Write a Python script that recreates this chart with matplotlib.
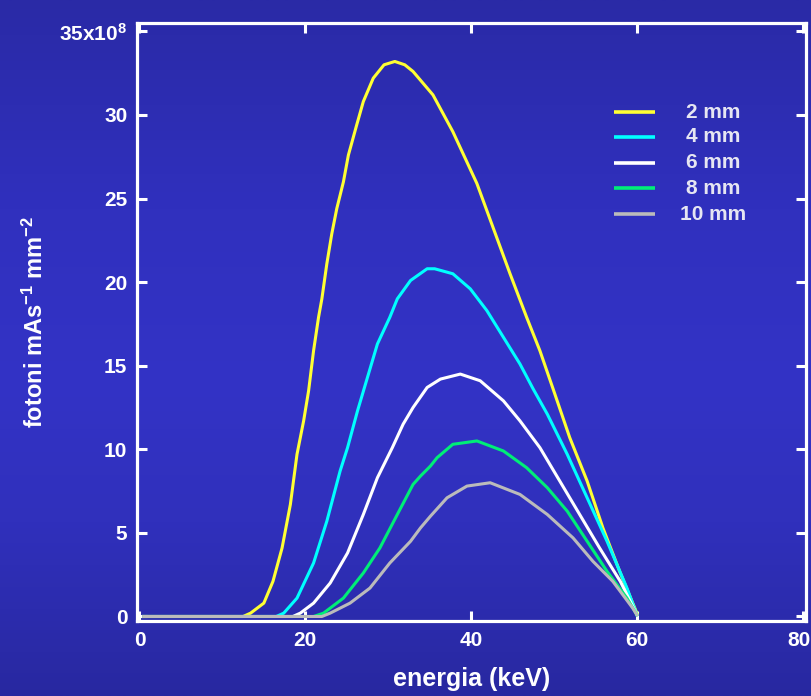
import numpy as np
import matplotlib
matplotlib.use("Agg")
import matplotlib.pyplot as plt
import matplotlib.transforms as mtransforms

# ---------------- data ----------------
e_2mm = [0.5, 12.5, 13.4, 15.0, 16.1, 17.2, 18.2, 19.0, 19.8, 20.4, 21.0, 21.6, 22.0, 22.6, 23.2,
         23.8, 24.6, 25.2, 26.2, 27.0, 28.2, 29.5, 30.8, 32.0, 33.0, 35.4, 37.8, 40.7, 42.7,
         44.7, 46.7, 48.3, 49.9, 51.9, 54.0, 55.9, 58.0, 60.0]
v_2mm = [0, 0, 0.2, 0.8, 2.1, 4.1, 6.7, 9.7, 11.7, 13.5, 15.9, 17.9, 19.0, 21.1, 22.9,
         24.4, 26.0, 27.6, 29.4, 30.8, 32.2, 33.0, 33.2, 33.0, 32.6, 31.2, 29.0, 25.9, 23.2,
         20.5, 17.9, 15.9, 13.6, 10.7, 8.1, 5.3, 2.6, 0.2]

e_4mm = [0.5, 16.5, 17.4, 19.0, 21.0, 22.6, 24.2, 25.1, 26.3, 27.5, 28.7, 30.2, 31.1, 32.7,
         34.7, 35.6, 37.8, 39.9, 41.9, 43.9, 45.9, 47.5, 49.2, 51.6, 54.0, 56.4, 58.8, 60.0]
v_4mm = [0, 0, 0.2, 1.1, 3.2, 5.7, 8.7, 10.1, 12.3, 14.3, 16.3, 17.9, 19.0, 20.1,
         20.8, 20.8, 20.5, 19.6, 18.3, 16.7, 15.1, 13.6, 12.1, 9.7, 7.1, 4.5, 1.7, 0.1]

e_6mm = [0.5, 18.5, 19.4, 21.0, 23.0, 25.1, 27.0, 28.7, 30.5, 31.8, 33.0, 34.7, 36.3, 38.7,
         41.1, 43.9, 45.9, 48.3, 50.7, 53.1, 55.5, 58.0, 60.0]
v_6mm = [0, 0, 0.2, 0.8, 2.0, 3.8, 6.1, 8.3, 10.1, 11.5, 12.5, 13.7, 14.2, 14.5,
         14.1, 12.9, 11.7, 10.1, 8.1, 6.1, 4.1, 2.1, 0.1]

e_8mm = [0.5, 21.0, 22.2, 24.6, 27.0, 29.0, 31.1, 33.0, 33.9, 35.1, 35.9, 37.8, 40.7, 43.9, 46.7,
         49.2, 51.6, 54.0, 56.4, 58.8, 60.0]
v_8mm = [0, 0, 0.2, 1.1, 2.6, 4.1, 6.1, 7.9, 8.4, 9.0, 9.5, 10.3, 10.5, 9.9, 8.9,
         7.7, 6.3, 4.5, 2.7, 1.1, 0.1]

e_10mm = [0.5, 22.0, 23.0, 25.4, 27.8, 30.2, 32.7, 33.9, 35.1, 37.1, 39.5, 42.3, 45.9, 49.2, 52.3,
          54.7, 57.1, 59.5, 60.0]
v_10mm = [0, 0, 0.2, 0.8, 1.7, 3.2, 4.5, 5.3, 6.0, 7.1, 7.8, 8.0, 7.3, 6.1, 4.7,
          3.3, 2.1, 0.5, 0.1]

series_labels = ["2 mm", "4 mm", "6 mm", "8 mm", "10 mm"]
series_colors = ["#ffff33", "#00ffff", "#ffffff", "#00ee77", "#bbbbbb"]
x_ticks = [0, 20, 40, 60, 80]
x_ticklabels = ["0", "20", "40", "60", "80"]
y_ticks = [0, 5, 10, 15, 20, 25, 30, 35]
y_ticklabels = ["0", "5", "10", "15", "20", "25", "30", "35x10$^{8}$"]
x_label = "energia (keV)"
y_label = "fotoni mAs$^{-1}$ mm$^{-2}$"

# ---------------- style ----------------
plt.rcParams['mathtext.default'] = 'regular'
fam = ['Liberation Sans', 'DejaVu Sans']

W, H = 812, 696
fig = plt.figure(figsize=(W / 100, H / 100), dpi=100)

# background gradient
bg = fig.add_axes([0, 0, 1, 1], zorder=-10)
stops_y = np.array([0.0, 0.3, 0.55, 0.75, 1.0])
stops_c = np.array([[42, 42, 166], [48, 48, 190], [51, 51, 198], [48, 48, 188], [40, 40, 160]]) / 255.0
yy = np.linspace(0, 1, 400)
grad = np.stack([np.interp(yy, stops_y, stops_c[:, k]) for k in range(3)], axis=1)
bg.imshow(grad[:, None, :], aspect='auto', extent=[0, 1, 1, 0])
bg.set_axis_off()

left, right, top, bottom = 137, 806, 23, 621
ax = fig.add_axes([left / W, 1 - bottom / H, (right - left) / W, (bottom - top) / H])
ax.patch.set_visible(False)

series = [(e_2mm, v_2mm), (e_4mm, v_4mm), (e_6mm, v_6mm), (e_8mm, v_8mm), (e_10mm, v_10mm)]
for (e, v), c in zip(series, series_colors):
    ax.plot(e, v, color=c, lw=2.2, solid_joinstyle='round', zorder=3)

ax.set_xlim(-0.3, 80.4)
ax.set_ylim(-0.27, 35.5)

for s in ax.spines.values():
    s.set_color('white')
    s.set_linewidth(2.3)
    s.set_zorder(4)

ax.set_xticks(x_ticks)
ax.set_xticklabels(x_ticklabels)
ax.set_yticks(y_ticks)
ax.set_yticklabels(y_ticklabels)
ax.tick_params(axis='both', which='major', direction='in', color='white', width=2.2,
               length=7.5, labelcolor='white', pad=7, top=True, right=True)
for lab in ax.get_xticklabels() + ax.get_yticklabels():
    lab.set_fontfamily(fam)
    lab.set_fontweight('bold')
    lab.set_fontsize(15)

# keep the last x label inside the canvas (it sits right at the edge)
last = ax.get_xticklabels()[-1]
last.set_transform(last.get_transform() +
                   mtransforms.ScaledTranslation(-4 / 100, 0, fig.dpi_scale_trans))

ax.set_xlabel(x_label, color='white', fontsize=18, fontweight='bold', family=fam)
ax.xaxis.set_label_coords(0.5, (bottom - 679) / (bottom - top))
ax.xaxis.label.set_va('center')
ax.set_ylabel(y_label, color='white', fontsize=17, fontweight='bold', family=fam)
ax.yaxis.set_label_coords((35 - left) / (right - left), 0.5)
ax.yaxis.label.set_va('center')

# legend (drawn as short lines plus centred labels, as in the original)
leg_y_px = [112, 137, 163, 188, 214]
for lab, c, ypx in zip(series_labels, series_colors, leg_y_px):
    yf = (bottom - ypx) / (bottom - top)
    ax.plot([(614 - left) / (right - left), (655 - left) / (right - left)], [yf, yf],
            transform=ax.transAxes, color=c, lw=2.6, solid_capstyle='butt', zorder=5)
    ax.text((713 - left) / (right - left), yf, lab, transform=ax.transAxes,
            ha='center', va='center', color='#e6e6f2', fontsize=15,
            fontweight='bold', family=fam, zorder=5)

fig.savefig('out.png', dpi=100)
